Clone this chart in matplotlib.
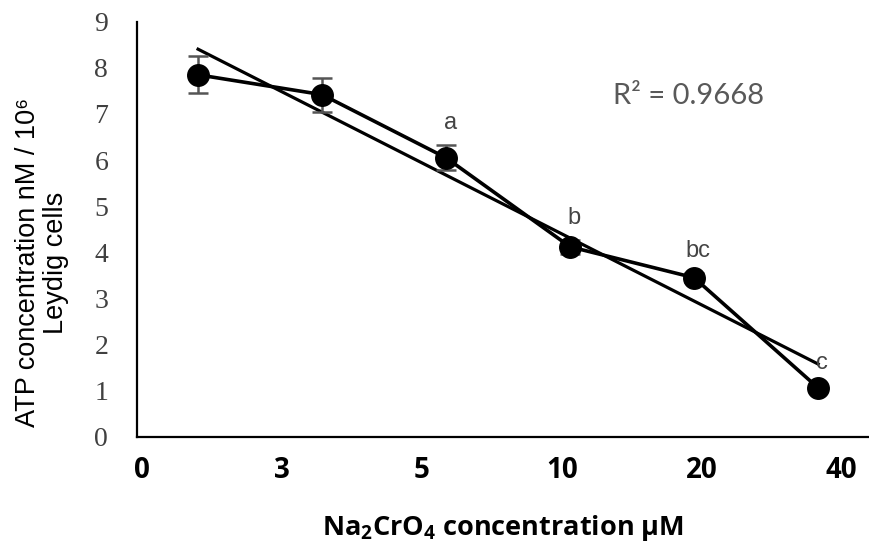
import numpy as np
import matplotlib.pyplot as plt

# Na2CrO4 concentration groups (uM)
conc_labels = ["0", "3", "5", "10", "20", "40"]
# ATP concentration nM / 10^6 Leydig cells
atp_mean = [7.85, 7.42, 6.05, 4.12, 3.45, 1.06]
atp_err = [0.40, 0.37, 0.27, 0.15, 0.10, 0.05]
sig_letters = ["", "", "a", "b", "bc", "c"]
r2_text = "R² = 0.9668"

plt.rcParams["mathtext.fontset"] = "custom"
plt.rcParams["mathtext.rm"] = "Open Sans"
plt.rcParams["mathtext.bf"] = "Open Sans:bold"

x = np.arange(len(conc_labels))

fig = plt.figure(figsize=(8.69, 5.44), dpi=100)
ax = fig.add_axes([0.158, 0.197, 0.842, 0.763])

#linear trendline through the means
slope, intercept = np.polyfit(x, atp_mean, 1)
ax.plot(x, slope * x + intercept, color="black", lw=2.3, zorder=2)

#error bars, then the data line with markers
ax.errorbar(x, atp_mean, yerr=atp_err, fmt="none", ecolor="#555555",
            elinewidth=1.8, capsize=7, capthick=1.8, zorder=3)
ax.plot(x, atp_mean, color="black", lw=2.6, marker="o", markersize=15.5, zorder=4)

#significance letters
for xi, m, e, s in zip(x, atp_mean, atp_err, sig_letters):
    if s:
        ax.annotate(s, (xi, m + e), xytext=(3, 16), textcoords="offset points",
                    ha="center", va="center", fontsize=17, color="#444444",
                    family="Liberation Sans")

ax.text(0.65, 0.82, r2_text, transform=ax.transAxes, fontsize=21,
        color="#595959", family="Lato", va="center")

#axes styling
ax.set_xlim(-0.49, 5.41)
ax.set_ylim(0, 9)
ax.spines["top"].set_visible(False)
ax.spines["right"].set_visible(False)
ax.spines["left"].set_linewidth(1.6)
ax.spines["bottom"].set_linewidth(1.6)

ax.set_yticks(range(0, 10))
ax.tick_params(axis="y", length=0, pad=21, labelsize=20, labelcolor="#404040")
for lab in ax.get_yticklabels():
    lab.set_family("Liberation Serif")

ax.set_xticks(np.linspace(-0.45, 5.19, len(conc_labels)))
ax.set_xticklabels(conc_labels, fontsize=20, fontweight="bold", family="Open Sans")
ax.tick_params(axis="x", length=0, pad=14)

ax.set_xlabel(r"Na$_\mathbf{2}$CrO$_\mathbf{4}$ concentration μM", fontsize=19.5,
              fontweight="bold", family="Open Sans", labelpad=20)
ax.set_ylabel("ATP concentration nM / 10⁶\nLeydig cells", fontsize=19.5,
              family=["Liberation Sans", "DejaVu Sans"], linespacing=1.1)
ax.yaxis.label.set_va("center")
ax.yaxis.set_label_coords(-0.13, 0.42)

fig.savefig("out.png", dpi=100)
